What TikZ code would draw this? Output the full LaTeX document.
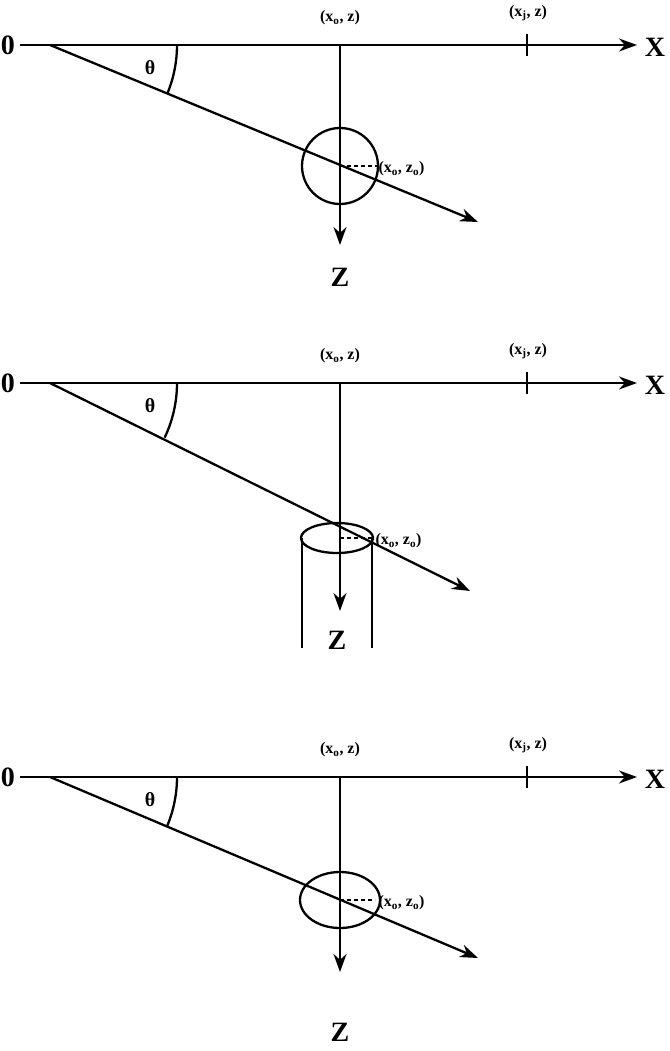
\documentclass[tikz,border=0pt]{standalone}
\usepackage{fontspec}
\setmainfont{Liberation Serif}
\usetikzlibrary{arrows.meta,shapes.geometric}
\tikzset{
  ln/.style={line width=2.3pt},
  arr/.style={ln,-{Stealth[length=18pt,width=13pt]}},
  big/.style={font=\bfseries\fontsize{28}{28}\selectfont},
  lab/.style={font=\bfseries\fontsize{16}{16}\selectfont},
  thl/.style={font=\bfseries\fontsize{20}{20}\selectfont}
}
\begin{document}
\begin{tikzpicture}[x=1pt,y=-1pt]
\useasboundingbox (0,0) rectangle (669,1051);
% ---------- panel 1
\begin{scope}[yshift=-45pt]
\coordinate (o1) at (20,0);
\coordinate (xe1) at (637,0);
\coordinate (d1) at (50,0);
\coordinate (de1) at (478,177);
\coordinate (v1) at (340,0);
\coordinate (ve1) at (340,200);
\draw[arr] (o1) -- (xe1);
\draw[arr] (d1) -- (de1);
\draw[arr] (v1) -- (ve1);
\node[big] (zero1) at (8,0) {0};
\node[big] (X1) at (655,2) {X};
\node[big] (Z1) at (340,232) {Z};
\node[lab] (xoz1) at (340,-27) {(x\textsubscript{o}, z)};
\node[lab] (xjz1) at (528,-32) {(x\textsubscript{j}, z)};
\draw[ln] (527,-11) -- (527,11);
\node[thl] (th1) at (150,23) {θ};
\draw[ln] (d1) ++(0:127) arc[start angle=0,end angle=22.5,radius=127];
\node[ln,draw,circle,minimum size=76pt,inner sep=0] (c1) at (340,121) {};
\draw[ln,dash pattern=on 4pt off 3pt] (c1.center) -- (c1.east);
\node[lab,anchor=west] (p1) at (375,124) {(x\textsubscript{o}, z\textsubscript{o})};
\end{scope}
% ---------- panel 2
\begin{scope}[yshift=-383pt]
\coordinate (o2) at (20,0);
\coordinate (xe2) at (637,0);
\coordinate (d2) at (50,0);
\coordinate (de2) at (470,208);
\coordinate (v2) at (340,0);
\coordinate (ve2) at (340,228);
\draw[ln] (302,155) -- (302,265);
\draw[ln] (372,155) -- (372,265);
\draw[arr] (o2) -- (xe2);
\draw[arr] (d2) -- (de2);
\draw[arr] (v2) -- (ve2);
\node[big] (zero2) at (8,0) {0};
\node[big] (X2) at (655,2) {X};
\node[big,fill=white,inner sep=1pt] (Z2) at (337,257) {Z};
\node[lab] (xoz2) at (340,-27) {(x\textsubscript{o}, z)};
\node[lab] (xjz2) at (528,-32) {(x\textsubscript{j}, z)};
\draw[ln] (527,-11) -- (527,11);
\node[thl] (th2) at (150,23) {θ};
\draw[ln] (d2) ++(0:127) arc[start angle=0,end angle=25.5,radius=127];
\node[ln,draw,ellipse,minimum width=72pt,minimum height=30pt,inner sep=0] (c2) at (337,155) {};
\draw[ln,dash pattern=on 4pt off 3pt] (340,155) -- (c2.east);
\node[lab,anchor=west] (p2) at (372,158) {(x\textsubscript{o}, z\textsubscript{o})};
\end{scope}
% ---------- panel 3
\begin{scope}[yshift=-777pt]
\coordinate (o3) at (20,0);
\coordinate (xe3) at (637,0);
\coordinate (d3) at (50,0);
\coordinate (de3) at (478,181);
\coordinate (v3) at (340,0);
\coordinate (ve3) at (340,195);
\draw[arr] (o3) -- (xe3);
\draw[arr] (d3) -- (de3);
\draw[arr] (v3) -- (ve3);
\node[big] (zero3) at (8,0) {0};
\node[big] (X3) at (655,2) {X};
\node[big] (Z3) at (340,255) {Z};
\node[lab] (xoz3) at (340,-27) {(x\textsubscript{o}, z)};
\node[lab] (xjz3) at (528,-32) {(x\textsubscript{j}, z)};
\draw[ln] (527,-11) -- (527,11);
\node[thl] (th3) at (150,23) {θ};
\draw[ln] (d3) ++(0:127) arc[start angle=0,end angle=23,radius=127];
\node[ln,draw,ellipse,minimum width=80pt,minimum height=56pt,inner sep=0] (c3) at (340,123) {};
\draw[ln,dash pattern=on 4pt off 3pt] (c3.center) -- (375,123);
\node[lab,anchor=west] (p3) at (375,126) {(x\textsubscript{o}, z\textsubscript{o})};
\end{scope}
\end{tikzpicture}
\end{document}
